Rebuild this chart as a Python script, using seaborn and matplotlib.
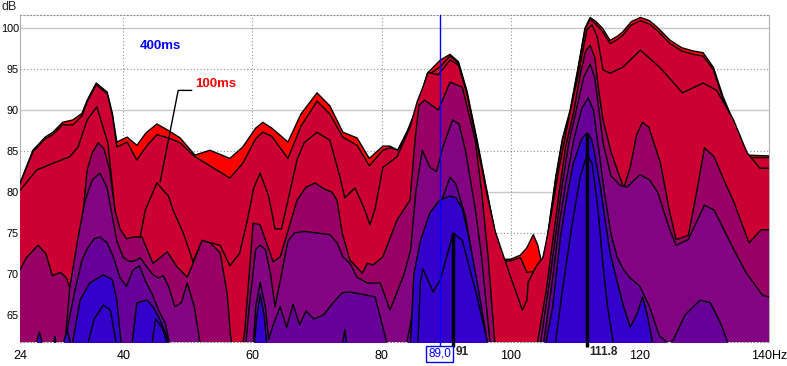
import numpy as np
import pandas as pd
import matplotlib
matplotlib.use("Agg")
import matplotlib.pyplot as plt
import seaborn as sns

# waterfall slices, earliest (red, top) to latest (blue, bottom)
f_red = [24, 26, 27.9, 29.1, 30.6, 32.2, 33.6, 34.4, 35.8, 37.5, 38.3, 39.0, 40.6, 42.1, 43.5, 45.2, 47, 48.8, 51.1, 53.4,
         56.5, 58.5, 60.5, 61.6, 63, 65.5, 67.5, 70, 72, 74, 76.2, 78.1, 80.2, 81.3, 82.5, 84, 85.5, 87.1, 89.1, 90.6,
         91.9, 93.2, 94.8, 96.3, 97.6, 98.5, 100, 101.5, 102.5, 103.5, 104.2, 104.8, 105.6, 106.2, 107, 108, 109.2, 110.5, 111.5, 112.3,
         113.2, 114.2, 115.4, 116.5, 117.3, 118.7, 120.1, 121.5, 122.7, 124.7, 126.5, 128.3, 129.8, 131.4, 132.9, 134.3, 135.6, 136.6, 140]
db_red = [81.1, 85.1, 86.7, 87.3, 88.5, 88.8, 89.6, 91.2, 93.3, 92.2, 89.6, 86.1, 86.7, 85.7, 87.2, 88.3, 87.5, 86.6, 84.5, 85.1,
          84.1, 85.5, 87.8, 88.5, 87.8, 86.1, 89.5, 92.1, 90.5, 87.3, 86.6, 84.1, 85.6, 85.6, 85.1, 87.5, 90.4, 94.5, 96.1, 96.8,
          95.9, 92.4, 86.3, 80.2, 75.0, 71.8, 71.8, 72.3, 73.2, 74.8, 73.5, 71.3, 74.0, 77.5, 82.0, 86.5, 90.0, 95.5, 100.0, 101.3,
          100.8, 100.0, 98.5, 99.0, 99.5, 100.8, 101.3, 100.9, 100.1, 98.5, 97.6, 97.2, 97.0, 95.2, 91.6, 89.0, 86.5, 84.5, 84.4]

f_crimson = f_red
db_crimson = [81.0, 84.9, 86.5, 87.0, 88.2, 88.2, 89.3, 91.0, 93.1, 92.0, 89.4, 85.5, 86.1, 83.9, 85.5, 87.0, 86.6, 86.0, 84.3, 83.2,
              81.7, 83.5, 86.5, 87.3, 86.8, 84.1, 88.0, 91.1, 89.5, 86.7, 85.7, 83.2, 85.1, 85.4, 85.1, 87.3, 90.2, 94.2, 95.3, 96.6,
              95.7, 92.2, 86.1, 80.0, 74.8, 71.6, 71.6, 72.0, 70.2, 70.3, 71.0, 71.1, 73.8, 77.3, 81.8, 86.3, 89.8, 95.3, 99.8, 101.1,
              100.5, 99.6, 98.1, 98.6, 99.1, 100.4, 100.9, 100.5, 99.7, 98.1, 97.2, 96.8, 96.6, 94.9, 91.3, 88.7, 86.2, 84.2, 84.2]

f_crimson2 = [24, 26.6, 29.1, 31.7, 33, 34.4, 35.9, 37.6, 38.7, 39.5, 41, 42.5, 43.4, 45.2, 47, 47.7, 49.3, 50.8, 52.2, 55,
              56.5, 58, 59.2, 60.2, 61.2, 62.5, 63.5, 64.5, 65.5, 66.9, 68, 70, 72, 73.5, 74.3, 75.9, 77.4, 78.2, 79, 80.2,
              82.4, 84.4, 85.5, 86.5, 87.2, 88.8, 90.6, 91.9, 93.2, 94.8, 96.3, 97.6, 100, 101.8, 102.5, 102.7, 104, 105, 106, 107.5,
              109, 110.5, 111.8, 112.6, 113.4, 114.3, 115.4, 117.3, 120.1, 123.1, 126.6, 129.8, 131.9, 134.5, 136.6, 138.6, 140]
db_crimson2 = [80.2, 82.7, 83.5, 84.3, 85.5, 88.8, 90.4, 86.0, 77.8, 74.0, 73.0, 74.0, 77.8, 81.1, 79.5, 77.8, 75.0, 71.5, 74.1, 73.5,
               71.0, 72.5, 76.5, 80.5, 82.3, 79.5, 75.5, 75.5, 79.0, 83.9, 86.0, 87.3, 86.3, 82.0, 79.3, 80.5, 77.8, 76.0, 78.0, 83.0,
               84.3, 87.9, 91.0, 93.0, 94.6, 94.3, 96.1, 95.5, 92.0, 85.8, 79.8, 75.2, 69.6, 65.6, 66.8, 69.0, 71.0, 72.0, 76.0, 83.0,
               89.0, 94.5, 99.8, 100.4, 98.9, 94.9, 94.5, 95.2, 97.3, 95.2, 92.1, 93.3, 92.4, 88.8, 84.8, 82.9, 82.9]

f_magenta = [24, 25, 26.8, 28, 29, 30.3, 31.2, 31.7, 33, 33.8, 34.4, 35.2, 36.1, 37, 37.9, 38.7, 39.5, 40.5, 41.5, 42.9,
             44.6, 46.8, 48.3, 49.9, 50.8, 52.2, 53.4, 55, 56.1, 56.6, 57.2, 58.2, 58.8, 59.5, 60.1, 61.2, 62.4, 63.2, 64.3, 65.4,
             66.9, 68.3, 69.7, 71.3, 72.3, 73.1, 73.9, 75.1, 77, 77.8, 78.7, 80.2, 82.4, 84.4, 85.2, 85.8, 86.7, 88.8, 90.6, 92.5,
             94.5, 95.5, 96.5, 97.3, 97.7, 103.5, 104, 105.5, 106.5, 107.5, 108.5, 109.8, 110.8, 111.6, 112.3, 113, 113.7, 114.3, 115.5, 116.5,
             117.5, 118.5, 119.5, 120.4, 121.4, 123.2, 124.5, 125.6, 127.5, 128.8, 130, 131.5, 133, 134.6, 136.9, 138.8, 140]
db_magenta = [70.5, 72.0, 73.5, 72.5, 69.8, 70.2, 69.5, 68.3, 73.0, 77.8, 82.7, 84.8, 86.0, 85.3, 82.7, 77.8, 75.5, 74.3, 74.5, 74.5,
              71.3, 72.7, 70.9, 69.6, 71.3, 74.1, 73.8, 72.6, 67.5, 62.5, 60.0, 60.0, 63.0, 70.0, 76.2, 76.0, 73.3, 71.5, 72.1, 75.0,
              79.0, 80.6, 81.1, 80.3, 80.0, 79.0, 75.0, 71.7, 70.1, 71.3, 71.1, 72.1, 76.6, 79.0, 86.5, 90.6, 91.2, 90.0, 93.4, 92.8,
              86.3, 80.0, 72.0, 64.0, 60.0, 60.0, 61.0, 68.0, 74.0, 80.0, 85.5, 90.0, 94.5, 97.2, 97.9, 96.5, 92.0, 88.8, 85.0, 82.7,
              80.5, 83.0, 87.0, 88.5, 87.9, 83.5, 78.0, 74.2, 74.7, 80.0, 85.4, 84.3, 81.5, 78.7, 73.8, 75.4, 75.4]

f_mix = [24, 30.8, 31.7, 33, 34.1, 35.2, 36.4, 37.5, 38.3, 39, 40, 41, 42.1, 42.6, 43.5, 44.5, 45.4, 46.2, 47, 48,
         49, 49.9, 51, 52, 58.8, 59.5, 60.5, 61.2, 62, 62.8, 63.5, 64.5, 65.5, 66.5, 68, 70, 72, 73.1, 74, 75.1,
         76.2, 77.8, 79.8, 81.3, 82.5, 83.5, 84.5, 85.3, 86.3, 87.5, 88.5, 89.5, 91, 92, 93, 94.5, 95.5, 96.5, 97, 104,
         104.5, 106, 107, 108, 109, 110.3, 111.3, 112.3, 113, 113.5, 114.3, 115.5, 117, 118, 120, 121.5, 122.8, 124.5, 125.6, 127.5,
         130, 131.5, 134.6, 136.5, 139, 140]
db_mix = [58, 60, 68.3, 74.5, 79, 81.5, 82.3, 80.5, 77, 74, 72, 71.5, 71.7, 72, 71, 70, 69.5, 69.8, 68.5, 66,
          66.5, 68.9, 66, 61, 60, 66, 73, 73.5, 73, 70, 66, 70, 74, 75, 75.2, 75, 74.8, 73.8, 72.1, 71.3,
          69.6, 68.9, 68.9, 65.6, 68, 70, 73, 80, 85.1, 83, 82.5, 85.5, 88.8, 88.3, 85, 78, 72, 64, 60, 60,
          61, 69, 75, 81, 86, 90.5, 94, 95.6, 94, 91, 86, 82, 80.8, 80.6, 82.1, 81.5, 79.9, 75.7, 73.5, 74.2,
          78.4, 77.8, 72.9, 70.1, 67.4, 67.2]

f_purple = [24, 30.8, 31.5, 32.5, 33.6, 34.5, 35.5, 36.4, 37.5, 38.5, 39.5, 40.5, 41.5, 42.5, 43.5, 44.5, 45.5, 46.5, 47.3, 60,
            60.5, 61.2, 62, 62.5, 63.3, 64.3, 65.3, 66.3, 67.3, 68.3, 69.5, 71, 72.5, 73.9, 75.1, 77.8, 79, 80.2, 81, 83.5,
            84.5, 86, 88, 90, 90.6, 91.5, 93, 94.5, 96, 96.5, 104.5, 105, 106.5, 107.5, 108.5, 109.8, 111, 112, 112.8, 113.5,
            114.5, 115.5, 116.5, 117.5, 118.5, 120, 121.5, 123, 124.5, 125.2, 127, 129.3, 130.9, 132.5, 133.5, 135, 140]
db_purple = [58, 60, 64, 68, 71.7, 73.2, 74.3, 74.5, 73.8, 72, 69.5, 68.5, 70.5, 71, 69, 67.5, 65.5, 64, 61, 60,
             66, 69, 66, 62, 64, 66, 63.5, 66.3, 63.8, 65.5, 64.5, 65, 66.5, 67.7, 67.8, 67.4, 67.2, 63.5, 61, 60,
             64, 71, 76, 80.5, 81.8, 81, 77, 70, 62, 59, 59, 61, 69.5, 76, 81, 86.5, 90.2, 91.5, 90, 86,
             80, 75, 72, 70.5, 69.5, 68.5, 66, 62.5, 61.5, 62, 65, 66.8, 66.5, 64, 61.9, 59, 59]

f_blue = [24, 26, 27, 28, 29, 29.4, 29.9, 30.5, 31.3, 32, 33.3, 34.8, 36.9, 38.3, 39, 39.6, 40.2, 41.2, 42.1, 43.7,
          44.6, 45.7, 46.8, 47.5, 60, 60.7, 61.2, 61.8, 62.5, 73.5, 74.3, 75, 84, 84.5, 85, 86, 87.5, 89, 90.5, 91.5,
          92.5, 93.5, 94.8, 96, 96.6, 105, 105.3, 106.5, 107.7, 108.7, 109.7, 111, 111.8, 112.5, 112.8, 113.9, 114.6, 115.4, 116.5, 117.5,
          118.5, 119.6, 120.4, 121.2, 122, 140]
db_blue = [59, 60, 62.9, 60, 61, 62.4, 60, 61, 63.2, 61, 66.8, 68.9, 69.9, 69.3, 66.8, 62, 59.5, 60.5, 66.5, 66.8,
           66, 64.4, 62.3, 59, 59, 65, 67.5, 65, 59, 59, 63.2, 59, 59, 62, 70, 74, 77.5, 79, 79.5, 79.3,
           78, 74.5, 69, 63.5, 60, 60, 61, 66, 74.5, 79.5, 83.5, 86.5, 87.2, 86.5, 85.5, 80.6, 76.6, 72.6, 69, 66,
           63.5, 65.2, 67.2, 64.8, 61.5, 58]

f_blue2 = [24, 34, 35.5, 36.9, 38, 38.8, 39.5, 44, 45, 46, 47, 48, 85.5, 86, 86.4, 88, 89.1, 91.1, 92.5, 94.8,
           96.3, 96.8, 106.5, 108, 109.5, 110.8, 111.8, 112.6, 113.5, 114.3, 115, 115.8, 116.5, 140]
db_blue2 = [58, 60, 64.5, 66.2, 65.6, 62, 59, 59, 64.5, 63.5, 61, 59, 59, 69, 70.6, 67.8, 69.3, 75, 74.1, 67.2,
            62, 59, 59, 68, 76, 82, 84.5, 83.5, 78, 71, 66, 62, 59, 58]

slice_colors = ['#ff0000', '#cc0033', '#cc0033', '#990066', '#830482', '#660099', '#3300cc', '#3300cc']

x_ticks = [24, 40, 60, 80, 100, 120, 140]
x_labels = ['24', '40', '60', '80', '100', '120', '140Hz']
y_ticks = [65, 70, 75, 80, 85, 90, 95, 100]

slices = [(f_red, db_red), (f_crimson, db_crimson), (f_crimson2, db_crimson2), (f_magenta, db_magenta),
          (f_mix, db_mix), (f_purple, db_purple), (f_blue, db_blue), (f_blue2, db_blue2)]

sns.set_style("white")
plt.rcParams['font.family'] = ['Liberation Sans', 'DejaVu Sans']

fig = plt.figure(figsize=(7.87, 3.66), dpi=100)
ax = fig.add_axes([20 / 787, 24 / 366, 749 / 787, 327 / 366])

for i, (f, db) in enumerate(slices):
    ax.fill_between(f, 50, db, color=slice_colors[i], lw=0, zorder=2 + 2 * i)
    sns.lineplot(x=f, y=db, ax=ax, color='black', lw=1, zorder=3 + 2 * i, estimator=None, sort=False)

# grid
for y in y_ticks:
    if y % 10 == 0:
        ax.axhline(y, color='#c8c8c8', lw=1, zorder=0.5)
    else:
        ax.axhline(y, color='#909090', lw=0.8, ls=(0, (1, 2)), zorder=0.5)
for x in x_ticks[1:-1]:
    ax.axvline(x, color='#909090', lw=0.8, ls=(0, (1, 2)), zorder=0.5)

ax.set_xlim(24, 140)
ax.set_ylim(61.7, 101.6)
ax.set_xticks(x_ticks)
ax.set_xticklabels(x_labels)
ax.set_yticks(y_ticks)
ax.tick_params(axis='both', length=0, colors='black')
ax.tick_params(axis='y', pad=0.8, labelsize=7.8)
ax.tick_params(axis='x', pad=6, labelsize=9)
ax.set_xlabel('')
ax.set_ylabel('')
for s in ['left', 'right']:
    ax.spines[s].set_color('#b0b0b0')
for s in ['top', 'bottom']:
    ax.spines[s].set_color('#909090')
    ax.spines[s].set_linestyle((0, (1, 2)))

fig.text(2 / 787, 1 - 7 / 366, 'dB', fontsize=9, va='center', ha='left')

# cursor and peak markers
ax.plot([89.0, 89.0], [61.2, 101.6], color='#0000ff', lw=1, zorder=30, clip_on=False)
ax.text(89.0, 61.0, '89,0', color='#0000ff', fontsize=8.5, ha='center', va='top', zorder=31,
        bbox=dict(boxstyle='square,pad=0.15', fc='white', ec='#0000ff', lw=1))
ax.plot([91, 91], [61.1, 75.0], color='black', lw=2.5, zorder=30, clip_on=False, solid_capstyle='butt')
ax.text(91.4, 61.2, '91', fontsize=8.5, fontweight='bold', ha='left', va='top')
ax.plot([111.8, 111.8], [61.1, 87.2], color='black', lw=2.5, zorder=30, clip_on=False, solid_capstyle='butt')
ax.text(112.1, 61.2, '111.8', fontsize=8.5, fontweight='bold', ha='left', va='top')

# slice labels
ax.text(42.6, 97.8, '400ms', color='#0000ff', fontsize=9.5, fontweight='bold', ha='left', va='center', zorder=40)
ax.text(51.1, 93.2, '100ms', color='#ff0000', fontsize=9.5, fontweight='bold', ha='left', va='center', zorder=40)
ax.plot([45.7, 48.5, 50.6], [81.2, 92.4, 92.4], color='black', lw=1, zorder=40)

fig.savefig('out.png', dpi=100)
